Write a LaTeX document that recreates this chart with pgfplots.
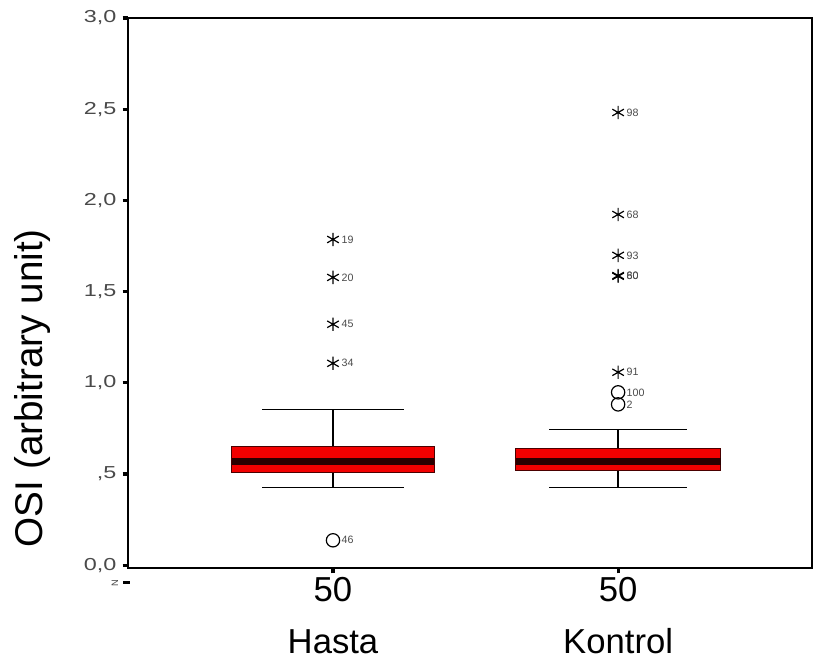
\documentclass[border=0pt]{standalone}
\usepackage{fontspec}
\setmainfont{Liberation Sans}
\usepackage{pgfplots}
\pgfplotsset{compat=1.18}
\usepgfplotslibrary{statistics}

\definecolor{boxred}{HTML}{F20000}
\definecolor{boxedge}{HTML}{4A0000}
\definecolor{mediancol}{HTML}{2A0000}
\definecolor{ticktxt}{HTML}{4A4A4A}

% outliers: group position, value, case number
\pgfplotstableread{
x y lab
1 1.786 19
1 1.578 20
1 1.321 45
1 1.107 34
2 2.482 98
2 1.923 68
2 1.699 93
2 1.584 60
2 1.588 80
2 1.058 91
}\stars
\pgfplotstableread{
x y lab
1 0.137 46
2 0.948 100
2 0.882 2
}\circles

\newcommand{\tl}[1]{\scalebox{1.35}[1]{#1}}

\begin{document}
\begin{tikzpicture}
\begin{axis}[
  name=ax,
  scale only axis,
  width=513pt, height=412.5pt,
  xmin=0.281, xmax=2.68,
  ymin=-0.015, ymax=3.0,
  clip=false,
  axis line style={line width=1.2pt},
  tick align=outside,
  xtick pos=bottom, ytick pos=left,
  major tick length=4pt,
  tick style={line width=2.4pt, black},
  xtick={1,2}, xticklabels={},
  ytick={0,0.5,1,1.5,2,2.5,3},
  yticklabels={{\tl{0,0}},{\tl{,5}},{\tl{1,0}},{\tl{1,5}},{\tl{2,0}},{\tl{2,5}},{\tl{3,0}}},
  yticklabel style={font=\fontsize{13}{14}\selectfont, text=ticktxt, inner sep=0pt, anchor=east, xshift=-4.5pt},
  ylabel={OSI (arbitrary unit)},
  ylabel style={at={(rel axis cs:-0.140,0.327)}, anchor=center, font=\fontsize{29}{32}\selectfont},
  boxplot/draw direction=y,
  boxplot/every box/.style={fill=boxred, draw=boxedge, line width=0.8pt},
  boxplot/every median/.style={draw=mediancol, line width=5.5pt},
  boxplot/every whisker/.style={draw=black, line width=1.1pt},
]
\addplot[boxplot prepared={draw position=1,
    lower whisker=0.427, lower quartile=0.51, median=0.57,
    upper quartile=0.652, upper whisker=0.855,
    box extend=0.709, whisker extend=0.495}] coordinates {};
\addplot[boxplot prepared={draw position=2,
    lower whisker=0.427, lower quartile=0.52, median=0.57,
    upper quartile=0.641, upper whisker=0.745,
    box extend=0.719, whisker extend=0.484}] coordinates {};

\addplot[only marks, mark=asterisk, mark size=5pt, black, line width=0.9pt,
  point meta=explicit symbolic, nodes near coords,
  nodes near coords style={anchor=west, xshift=6pt, inner sep=0pt,
    font=\fontsize{8}{9}\selectfont, text=ticktxt}]
  table[x=x, y=y, meta=lab] {\stars};
\addplot[only marks, mark=o, mark size=5pt, black, line width=0.9pt,
  point meta=explicit symbolic, nodes near coords,
  nodes near coords style={anchor=west, xshift=6pt, inner sep=0pt,
    font=\fontsize{8}{9}\selectfont, text=ticktxt}]
  table[x=x, y=y, meta=lab] {\circles};

% N row and group names
\node[rotate=90, font=\fontsize{7}{8}\selectfont, text=ticktxt] at (rel axis cs:-0.019,-0.027) {N};
\draw[line width=2.4pt] (rel axis cs:-0.007,-0.027) -- (rel axis cs:0.003,-0.027);
\node[anchor=base, font=\fontsize{26}{28}\selectfont] at (axis cs:1,-0.2013) {50};
\node[anchor=base, font=\fontsize{26}{28}\selectfont] at (axis cs:2,-0.2013) {50};
\node[anchor=base, font=\fontsize{26}{28}\selectfont] at (axis cs:1,-0.484) {Hasta};
\node[anchor=base, font=\fontsize{26}{28}\selectfont] at (axis cs:2,-0.484) {Kontrol};
\end{axis}
\path[use as bounding box] ([xshift=-96pt,yshift=-73.5pt]ax.south west) rectangle ([xshift=1.5pt,yshift=13.5pt]ax.north east);
\end{tikzpicture}
\end{document}
